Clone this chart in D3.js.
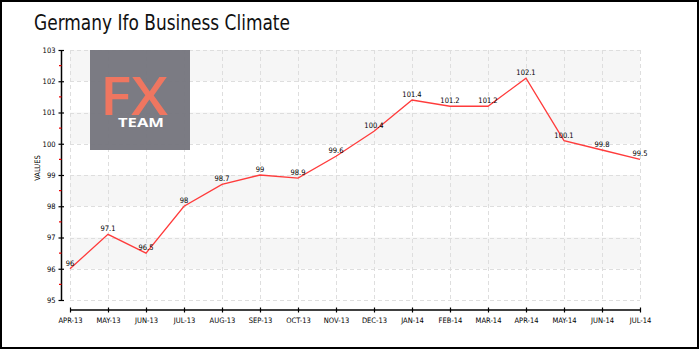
<!DOCTYPE html>
<html>
<head>
<meta charset="utf-8">
<script src="https://cdn.jsdelivr.net/npm/d3@7"></script>
<style>
  html, body { margin: 0; padding: 0; background: #fff; }
  svg { display: block; }
</style>
</head>
<body>
<svg id="chart" width="700" height="350"></svg>
<script>
// Monthly readings of the Ifo business climate index
const months = ["APR-13", "MAY-13", "JUN-13", "JUL-13", "AUG-13", "SEP-13", "OCT-13", "NOV-13",
                "DEC-13", "JAN-14", "FEB-14", "MAR-14", "APR-14", "MAY-14", "JUN-14", "JUL-14"];
const values = [96, 97.1, 96.5, 98, 98.7, 99, 98.9, 99.6, 100.4, 101.4, 101.2, 101.2, 102.1, 100.1, 99.8, 99.5];
const yTicks = [95, 96, 97, 98, 99, 100, 101, 102, 103];
const titleText = "Germany Ifo Business Climate";
const yLabel = "VALUES";

const svg = d3.select("#chart");
const W = 700, H = 350;

// outer frame
svg.append("rect")
  .attr("x", 1).attr("y", 1).attr("width", W - 3).attr("height", H - 3)
  .attr("fill", "#fff").attr("stroke", "#000").attr("stroke-width", 2);

// title
svg.append("text")
  .attr("x", 34).attr("y", 30)
  .attr("font-family", "'DejaVu Sans Condensed', 'DejaVu Sans', sans-serif")
  .attr("font-size", 21)
  .attr("textLength", 256).attr("lengthAdjust", "spacingAndGlyphs")
  .attr("fill", "#111")
  .text(titleText);

const plot = { left: 70, right: 640, top: 50, bottom: 300 };

const x = d3.scalePoint().domain(months).range([plot.left, plot.right]);
const y = d3.scaleLinear().domain([95, 103]).range([plot.bottom, plot.top]);

// alternating horizontal bands
const bands = [[96, 97], [98, 99], [100, 101], [102, 103]];
svg.append("g").selectAll("rect").data(bands).join("rect")
  .attr("x", plot.left).attr("width", plot.right - plot.left)
  .attr("y", d => y(d[1])).attr("height", d => y(d[0]) - y(d[1]))
  .attr("fill", "#f6f6f6");

// dashed grid
const grid = svg.append("g")
  .attr("stroke", "#dedede").attr("stroke-width", 1).attr("stroke-dasharray", "4,3");
grid.selectAll(".h").data(yTicks).join("line")
  .attr("x1", plot.left).attr("x2", plot.right)
  .attr("y1", d => Math.round(y(d)) + 0.5).attr("y2", d => Math.round(y(d)) + 0.5);
grid.selectAll(".v").data(months).join("line")
  .attr("x1", d => Math.round(x(d)) + 0.5).attr("x2", d => Math.round(x(d)) + 0.5)
  .attr("y1", plot.top).attr("y2", plot.bottom);

// logo block: "FX" over "TEAM" in one text element
const logo = svg.append("g");
logo.append("rect")
  .attr("x", 90).attr("y", 50).attr("width", 100).attr("height", 100)
  .attr("fill", "#76767e").attr("fill-opacity", 0.96);
const logoText = logo.append("text")
  .attr("font-family", "'Open Sans', sans-serif")
  .attr("text-anchor", "middle");
logoText.append("tspan")
  .attr("x", 134).attr("y", 115)
  .attr("font-weight", 600).attr("font-size", 53)
  .attr("textLength", 68).attr("lengthAdjust", "spacingAndGlyphs")
  .attr("fill", "#ef7660")
  .text("FX");
logoText.append("tspan")
  .attr("x", 141).attr("y", 127)
  .attr("font-weight", 700).attr("font-size", 12.5)
  .attr("textLength", 46).attr("lengthAdjust", "spacingAndGlyphs")
  .attr("fill", "#fff")
  .text("TEAM");

const tickFont = "'DejaVu Sans Condensed', 'DejaVu Sans', sans-serif";

// y axis
const yAxisX = 61;
const yAxis = d3.axisLeft(y).tickValues(yTicks).tickSize(3).tickPadding(3).tickFormat(d3.format("d"));
const gy = svg.append("g").attr("transform", `translate(${yAxisX + 0.5},0)`).call(yAxis);
gy.select(".domain").attr("stroke", "#000").attr("stroke-width", 1.5).attr("d", `M0,${plot.top}V${plot.bottom}`);
gy.selectAll(".tick line").attr("x1", 2.5).attr("x2", -3).attr("stroke", "#000").attr("stroke-width", 1.2);
gy.selectAll(".tick text").attr("font-family", tickFont).attr("font-size", 7.5).attr("fill", "#000");
// half-step minor ticks
const minor = d3.range(95.5, 103, 1);
gy.append("g").selectAll("line").data(minor).join("line")
  .attr("x1", -2.5).attr("x2", 0)
  .attr("y1", d => y(d)).attr("y2", d => y(d))
  .attr("stroke", "#e00").attr("stroke-width", 1.2);

// y axis title
svg.append("text")
  .attr("transform", "translate(40,168) rotate(-90)")
  .attr("text-anchor", "middle")
  .attr("font-family", tickFont).attr("font-size", 7.5)
  .attr("fill", "#000")
  .text(yLabel);

// x axis
const xAxisY = 310;
const xAxis = d3.axisBottom(x).tickSize(3).tickPadding(5);
const gx = svg.append("g").attr("transform", `translate(0,${xAxisY})`).call(xAxis);
gx.select(".domain").attr("stroke", "#000").attr("stroke-width", 1.5).attr("d", `M${plot.left},0H${plot.right}`);
gx.selectAll(".tick line").attr("y1", -2.5).attr("y2", 2.5).attr("stroke", "#000").attr("stroke-width", 1.2);
gx.selectAll(".tick text").attr("font-family", tickFont).attr("font-size", 7.5).attr("fill", "#000");

// series line
const series = months.map((m, i) => ({ m, v: values[i] }));
svg.append("path")
  .datum(series)
  .attr("fill", "none").attr("stroke", "#ff3b3b").attr("stroke-width", 1.3)
  .attr("d", d3.line().x(d => x(d.m)).y(d => y(d.v)));

// value labels
svg.append("g").selectAll("text").data(series).join("text")
  .attr("x", d => x(d.m)).attr("y", d => y(d.v) - 3)
  .attr("text-anchor", "middle")
  .attr("font-family", tickFont).attr("font-size", 7.5)
  .attr("fill", "#000")
  .text(d => d.v);
</script>
</body>
</html>
